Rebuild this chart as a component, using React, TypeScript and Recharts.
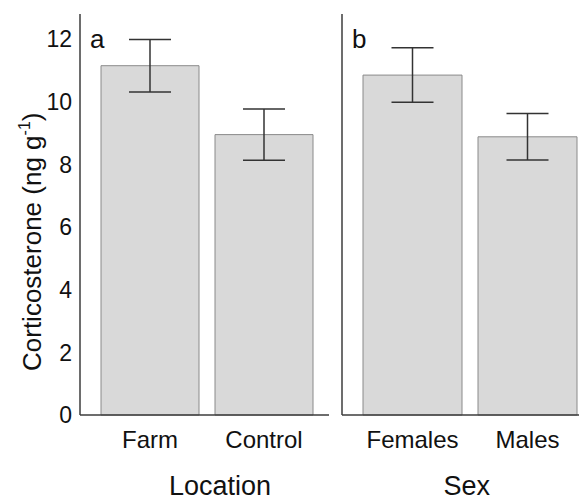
import React from 'react';
import { BarChart, Bar, XAxis, YAxis, ErrorBar, Label } from 'recharts';

// values (mean ± SE)
const locations = ['Farm', 'Control'];
const locationMeans = [11.15, 8.95];
const locationSE = [0.84, 0.82];

const sexes = ['Females', 'Males'];
const sexMeans = [10.85, 8.88];
const sexSE = [0.87, 0.74];

const yTicks = [0, 2, 4, 6, 8, 10, 12];
const yMax = 12.8;

const FONT = '"Liberation Sans", Arial, Helvetica, sans-serif';
const AXIS = '#3c3c3c';

const build = (names: string[], means: number[], se: number[]) =>
  names.map((name, i) => ({ name, mean: means[i], se: se[i] }));

const locationData = build(locations, locationMeans, locationSE);
const sexData = build(sexes, sexMeans, sexSE);

interface PanelProps {
  data: { name: string; mean: number; se: number }[];
  letter: string;
  title: string;
  titleX: number;
  width: number;
  yAxisWidth: number;
  marginRight: number;
  padding: { left: number; right: number };
  barSize: number;
  showYTicks: boolean;
}

const Panel: React.FC<PanelProps> = ({
  data, letter, title, titleX, width, yAxisWidth, marginRight, padding, barSize, showYTicks,
}) => (
  <BarChart
    width={width}
    height={501}
    data={data}
    margin={{ top: 14, right: marginRight, bottom: 0, left: 0 }}
  >
    <XAxis
      dataKey="name"
      height={86}
      padding={padding}
      stroke={AXIS}
      strokeWidth={1.5}
      tickLine={false}
      tickSize={0}
      tickMargin={16}
      tick={{ fontSize: 24, fill: '#111', fontFamily: FONT }}
    >
      <Label
        content={({ viewBox }: any) => (
          <text
            x={viewBox.x + titleX}
            y={viewBox.y + 80}
            textAnchor="middle"
            fontSize={27}
            fontFamily={FONT}
            fill="#111"
          >
            {title}
          </text>
        )}
      />
    </XAxis>
    <YAxis
      width={yAxisWidth}
      domain={[0, yMax]}
      ticks={yTicks}
      stroke={AXIS}
      strokeWidth={1.5}
      tickLine={false}
      tickSize={0}
      tickMargin={8}
      tick={showYTicks ? { fontSize: 23, fill: '#111', fontFamily: FONT } : false}
    >
      <Label
        content={({ viewBox }: any) => (
          <g>
            <text
              x={viewBox.x + viewBox.width + 10}
              y={viewBox.y + 34}
              fontSize={26}
              fontFamily={FONT}
              fill="#111"
            >
              {letter}
            </text>
            {showYTicks && (
              <text
                x={viewBox.x + 41}
                y={371}
                transform={`rotate(-90, ${viewBox.x + 41}, 371)`}
                fontSize={26}
                fontFamily={FONT}
                fill="#111"
              >
                Corticosterone (ng g
                <tspan fontSize={16} dy={-11}>-1</tspan>
                <tspan dy={11}>)</tspan>
              </text>
            )}
          </g>
        )}
      />
    </YAxis>
    <Bar
      dataKey="mean"
      fill="#d9d9d9"
      stroke="#8a8a8a"
      strokeWidth={1}
      barSize={barSize}
      isAnimationActive={false}
    >
      <ErrorBar dataKey="se" width={21} stroke="#333" strokeWidth={1.5} />
    </Bar>
  </BarChart>
);

export default function App() {
  return (
    <div
      style={{
        position: 'absolute',
        left: 0,
        top: 0,
        width: 579,
        height: 501,
        overflow: 'hidden',
        background: '#fff',
      }}
    >
      <div style={{ position: 'absolute', left: 0, top: 0 }}>
        <Panel
          data={locationData}
          letter="a"
          title="Location"
          titleX={140}
          width={335}
          yAxisWidth={80}
          marginRight={6}
          padding={{ left: 13, right: 8 }}
          barSize={98}
          showYTicks
        />
      </div>
      <div style={{ position: 'absolute', left: 335, top: 0 }}>
        <Panel
          data={sexData}
          letter="b"
          title="Sex"
          titleX={124.7}
          width={260}
          yAxisWidth={7}
          marginRight={0}
          padding={{ left: 13, right: 10 }}
          barSize={99}
          showYTicks={false}
        />
      </div>
    </div>
  );
}
